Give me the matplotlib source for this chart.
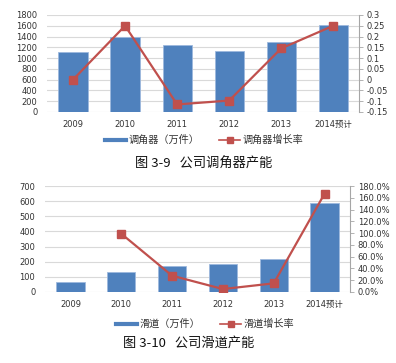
import matplotlib
matplotlib.use("Agg")
import matplotlib.pyplot as plt
from matplotlib.lines import Line2D
from matplotlib.ticker import FuncFormatter

plt.rcParams['font.family'] = ['DejaVu Sans', 'Noto Sans CJK SC']
plt.rcParams['axes.unicode_minus'] = False

years = ["2009", "2010", "2011", "2012", "2013", "2014预计"]

# Chart 1: 调角器
tjq_output = [1120, 1400, 1235, 1123, 1290, 1605]
tjq_growth = [0.0, 0.25, -0.115, -0.097, 0.145, 0.25]

# Chart 2: 滑道
hd_output = [64, 134, 173, 184, 215, 588]
hd_growth = [None, 0.99, 0.277, 0.05, 0.147, 1.67]

BLUE = "#4F81BD"
RED = "#C0504D"
GRID = "#D9D9D9"
TXT = "#333333"
CJK = ['Noto Sans CJK SC', 'DejaVu Sans']

fig = plt.figure(figsize=(3.96, 3.63), dpi=100)

def style_axes(ax, ax2):
    for s in ["top", "left", "right", "bottom"]:
        ax.spines[s].set_visible(False)
    for s in ["top", "left", "bottom"]:
        ax2.spines[s].set_visible(False)
    ax2.spines["right"].set_color("#A6A6A6")
    ax2.spines["right"].set_linewidth(0.8)
    ax.tick_params(axis="y", length=0, labelsize=6.0, colors=TXT, pad=7)
    ax.tick_params(axis="x", length=0, labelsize=6.0, colors=TXT, pad=6)
    ax2.tick_params(axis="y", length=3, width=0.6, color="#A6A6A6", labelsize=6.0, labelcolor=TXT, pad=2.5)
    for lab in ax.get_xticklabels():
        lab.set_family(['DejaVu Sans', 'Noto Sans CJK SC'])
    ax.grid(axis="y", color=GRID, linewidth=0.8)
    ax.set_axisbelow(True)

# ---- Top chart ----
ax1 = fig.add_axes([0.1187, 0.6915, 0.7885, 0.2672])
x = list(range(len(years)))
ax1.bar(x, tjq_output, width=0.56, color=BLUE, edgecolor="#9DB9DE", linewidth=0.6, zorder=2)
ax1.set_ylim(0, 1800)
ax1.set_yticks(range(0, 1801, 200))
ax1.set_xlim(-0.5, len(years) - 0.5)
ax1.set_xticks(x)
ax1.set_xticklabels(years)
ax1b = ax1.twinx()
ax1b.plot(x, tjq_growth, color=RED, linewidth=1.6, marker="s", markersize=5.5, zorder=3)
ax1b.set_ylim(-0.15, 0.3)
ax1b.set_yticks([-0.15, -0.1, -0.05, 0, 0.05, 0.1, 0.15, 0.2, 0.25, 0.3])
ax1b.yaxis.set_major_formatter(FuncFormatter(lambda v, p: ("%g" % round(v, 2))))
style_axes(ax1, ax1b)

h1 = [Line2D([], [], color=BLUE, linewidth=3),
      Line2D([], [], color=RED, linewidth=1.2, marker="s", markersize=4)]
fig.legend(h1, ["调角器（万件）", "调角器增长率"], loc="center",
           bbox_to_anchor=(204 / 396, 1 - 140 / 363), ncol=2, frameon=False,
           prop={'family': CJK, 'size': 7.3}, handlelength=2.1, columnspacing=2.0,
           handletextpad=0.2, labelcolor=TXT)
fig.text(204 / 396, 1 - 164 / 363, "图 3-9   公司调角器产能", ha="center", va="center",
         fontsize=9.5, color="#111111", family=CJK)

# ---- Bottom chart ----
ax2 = fig.add_axes([0.1136, 0.1956, 0.7702, 0.292])
xs = list(range(len(years)))
ax2.bar(xs, hd_output, width=0.56, color=BLUE, edgecolor="#9DB9DE", linewidth=0.6, zorder=2)
ax2.set_ylim(0, 700)
ax2.set_yticks(range(0, 701, 100))
ax2.set_xlim(-0.5, len(years) - 0.5)
ax2.set_xticks(xs)
ax2.set_xticklabels(years)
ax2b = ax2.twinx()
gx = [i for i, g in zip(xs, hd_growth) if g is not None]
gy = [g for g in hd_growth if g is not None]
ax2b.plot(gx, gy, color=RED, linewidth=1.6, marker="s", markersize=5.5, zorder=3)
ax2b.set_ylim(0, 1.8)
ax2b.set_yticks([i * 0.2 for i in range(10)])
ax2b.yaxis.set_major_formatter(FuncFormatter(lambda v, p: "%.1f%%" % (v * 100)))
style_axes(ax2, ax2b)

h2 = [Line2D([], [], color=BLUE, linewidth=3),
      Line2D([], [], color=RED, linewidth=1.2, marker="s", markersize=4)]
fig.legend(h2, ["滑道（万件）", "滑道增长率"], loc="center",
           bbox_to_anchor=(205 / 396, 1 - 324 / 363), ncol=2, frameon=False,
           prop={'family': CJK, 'size': 7.3}, handlelength=2.1, columnspacing=2.0,
           handletextpad=0.2, labelcolor=TXT)
fig.text(189 / 396, 1 - 343 / 363, "图 3-10   公司滑道产能", ha="center", va="center",
         fontsize=9.5, color="#111111", family=CJK)

fig.savefig("out.png", dpi=100)
